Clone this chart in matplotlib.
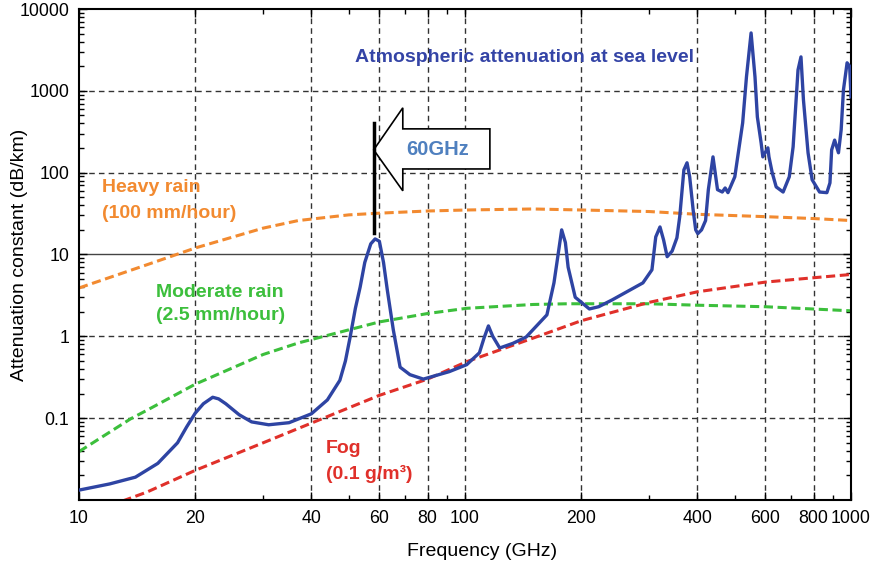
import numpy as np
import matplotlib
matplotlib.use("Agg")
import matplotlib.pyplot as plt
from matplotlib.patches import Polygon
from matplotlib.ticker import FixedLocator, NullFormatter, LogLocator

plt.rcParams['font.family'] = ['Liberation Sans', 'DejaVu Sans']

# Atmospheric attenuation at sea level (GHz, dB/km)
atm_freq = [10, 12, 14, 16, 18, 19, 20, 21, 22.2, 23, 24, 26, 28, 31, 35, 40, 44, 47.4, 49,
            50.4, 52, 53.5, 55, 57, 58.5, 60, 61.5, 62.9, 65.2, 67.9, 72, 78, 91, 101, 109,
            112, 115, 118, 123, 133, 144, 163, 170, 173, 178, 182, 185, 193, 210, 222, 241,
            289, 305, 312, 320, 327, 334, 344, 354, 360, 369, 376, 382, 390, 396, 401, 410,
            420, 427, 439, 451, 464, 472, 480, 500, 524, 536, 551, 564, 572, 585, 591, 609,
            613, 625, 640, 667, 692, 708, 729, 742, 753, 774, 793, 829, 866, 882, 891, 907,
            928, 943, 956, 977, 992, 1000]
atm_att = [0.0132, 0.0157, 0.019, 0.028, 0.05, 0.078, 0.115, 0.15, 0.18, 0.172, 0.15, 0.11,
           0.09, 0.083, 0.088, 0.113, 0.167, 0.29, 0.5, 0.98, 2.2, 4.0, 8.0, 13.5, 15.5, 14.5,
           8.0, 3.7, 1.2, 0.42, 0.34, 0.30, 0.37, 0.45, 0.63, 0.95, 1.34, 1.0, 0.72, 0.82,
           0.98, 1.83, 4.5, 7.9, 20, 14, 7.0, 3.0, 2.16, 2.3, 2.8, 4.5, 6.5, 16.4, 21.7, 15,
           9.4, 11, 16, 29, 108, 132, 89, 35, 20, 18, 20, 26, 62, 156, 62, 58, 65, 57, 89,
           406, 1480, 5100, 1480, 480, 231, 156, 201, 156, 100, 67, 58, 89, 207, 1800, 2600,
           776, 175, 82, 58, 57, 75, 190, 250, 175, 334, 1030, 2200, 2000, 845]

heavy_freq = [10, 15, 20, 30, 37, 50, 60, 80, 101, 150, 200, 300, 400, 600, 800, 1000]
heavy_att = [3.9, 7.5, 12, 21, 26, 30.5, 32, 34, 35, 36, 35, 33.5, 31, 29, 27.5, 26]

moderate_freq = [10, 13.6, 15, 20, 30, 37, 50, 60, 80, 101, 150, 184, 300, 400, 600, 1000]
moderate_att = [0.039, 0.098, 0.125, 0.26, 0.6, 0.83, 1.2, 1.5, 1.9, 2.2, 2.45, 2.5, 2.5, 2.4,
                2.3, 2.05]

fog_freq = [12, 15, 20, 30, 40, 60, 80, 101, 150, 200, 300, 400, 600, 800, 1000]
fog_att = [0.0085, 0.0125, 0.023, 0.05, 0.087, 0.19, 0.30, 0.49, 0.95, 1.55, 2.6, 3.5, 4.6,
           5.2, 5.7]

x_ticks = [10, 20, 40, 60, 80, 100, 200, 400, 600, 800, 1000]
x_minor = [30, 50, 70, 90, 300, 500, 700, 900]
y_ticks = [0.1, 1, 10, 100, 1000, 10000]

fig = plt.figure(figsize=(8.73, 5.67), dpi=100)
ax = fig.add_axes([0.0905, 0.1182, 0.8843, 0.8659])
ax.set_xscale('log')
ax.set_yscale('log')
ax.set_xlim(10, 1000)
ax.set_ylim(0.01, 10000)

# grid
for xv in x_ticks[1:-1]:
    ax.axvline(xv, color='#333333', lw=1, ls=(0, (4, 3)), zorder=1)
for yv in y_ticks[:-1]:
    if yv == 10:
        ax.axhline(yv, color='#444444', lw=1, zorder=1)
    else:
        ax.axhline(yv, color='#333333', lw=1, ls=(0, (4, 3)), zorder=1)

dots = (0, (3, 1.5))
ax.plot(heavy_freq, heavy_att, color='#f28a30', lw=2.2, ls=dots, zorder=2)
ax.plot(moderate_freq, moderate_att, color='#3cbf3c', lw=2.2, ls=dots, zorder=2)
ax.plot(fog_freq, fog_att, color='#e0302a', lw=2.2, ls=dots, zorder=2)
ax.plot(atm_freq, atm_att, color='#2e44a3', lw=2.4, zorder=3, solid_joinstyle='round')

# ticks
ax.xaxis.set_major_locator(FixedLocator(x_ticks))
ax.xaxis.set_minor_locator(FixedLocator(x_minor))
ax.set_xticklabels([str(v) for v in x_ticks])
ax.xaxis.set_minor_formatter(NullFormatter())
ax.yaxis.set_major_locator(FixedLocator(y_ticks))
ax.set_yticklabels(['0.1', '1', '10', '100', '1000', '10000'])
ax.yaxis.set_minor_locator(LogLocator(base=10, subs=np.arange(2, 10), numticks=20))
ax.yaxis.set_minor_formatter(NullFormatter())
ax.tick_params(which='both', direction='in', top=True, right=True, labelsize=12.8, width=1)
ax.tick_params(which='major', length=6, pad=7)
ax.tick_params(which='minor', length=3.5)
for s in ax.spines.values():
    s.set_linewidth(1.5)

ax.set_xlabel('Frequency (GHz)', fontsize=14)
ax.set_ylabel('Attenuation constant (dB/km)', fontsize=14)
ax.xaxis.set_label_coords(0.522, -0.088)
ax.yaxis.set_label_coords(-0.066, 0.5)

# annotations
bold = dict(fontsize=14, fontweight='bold', va='center', ha='left')
ax.text(51.9, 2530, 'Atmospheric attenuation at sea level', color='#3444a6', **bold)
ax.text(11.5, 65, 'Heavy rain', color='#f28a30', **bold)
ax.text(11.5, 32, '(100 mm/hour)', color='#f28a30', **bold)
ax.text(15.8, 3.4, 'Moderate rain', color='#3cbf3c', **bold)
ax.text(15.8, 1.78, '(2.5 mm/hour)', color='#3cbf3c', **bold)
ax.text(43.6, 0.042, 'Fog', color='#e0302a', **bold)
ax.text(43.6, 0.0208, '(0.1 g/m³)', color='#e0302a', **bold)

arrow = Polygon([(58, 190), (69, 620), (69, 343), (116, 343), (116, 111), (69, 111), (69, 60)],
                closed=True, facecolor='white', edgecolor='black', lw=1.2, zorder=4)
ax.add_patch(arrow)
ax.plot([58, 58], [18.4, 406], color='black', lw=2.5, zorder=5)
ax.text(85, 190, '60GHz', color='#4f80bf', fontsize=14.5, fontweight='bold',
        ha='center', va='center', zorder=6)

fig.savefig('out.png', dpi=100)
